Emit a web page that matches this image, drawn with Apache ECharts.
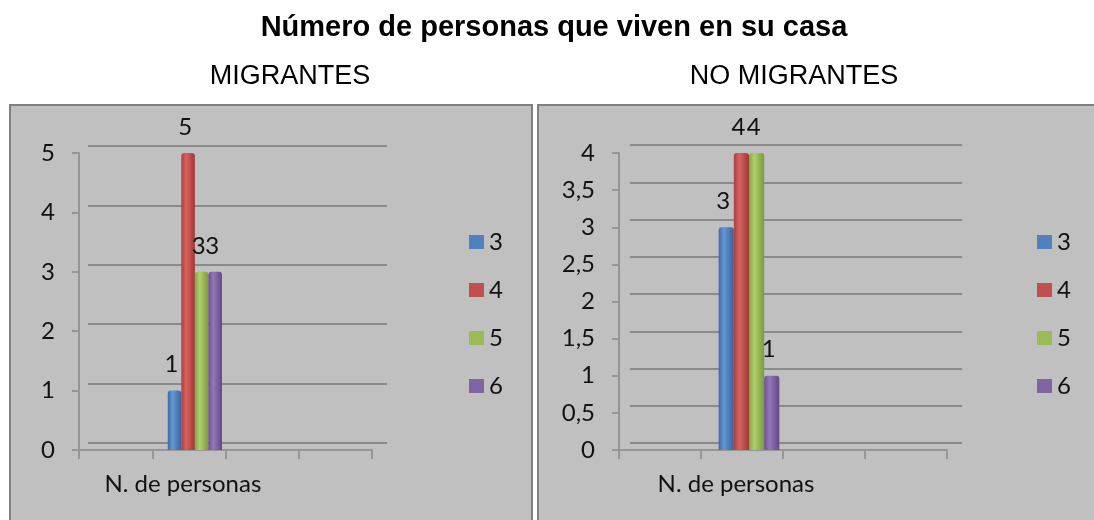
<!DOCTYPE html>
<html>
<head>
<meta charset="utf-8">
<script src="https://cdn.jsdelivr.net/npm/echarts@6/dist/echarts.min.js"></script>
<style>
  html, body { margin: 0; padding: 0; background: #ffffff; }
  #chart { width: 1094px; height: 520px; }
</style>
</head>
<body>
<div id="chart"></div>
<script>
// data
const categories = ["", "N. de personas", "", ""]
const groupNames = ["3", "4", "5", "6"]
const migrantes = [1, 5, 3, 3]
const noMigrantes = [3, 4, 4, 1]
const migrantesTicks = [0, 1, 2, 3, 4, 5]
const noMigrantesTicks = [0, 0.5, 1, 1.5, 2, 2.5, 3, 3.5, 4]

const dataSlot = 1
const textFont = "Lato"

const flatColors = ["#4f81bd", "#c0504d", "#9bbb59", "#8064a2"]
const shades = [
  ["#3d6aa3", "#6596d4", "#3a629a"],
  ["#a63f3c", "#d8625f", "#9e3936"],
  ["#84a446", "#b0cf6c", "#7b993f"],
  ["#6a508e", "#9477b6", "#624985"]
]

function barColor(i) {
  return {
    type: "linear", x: 0, y: 0, x2: 1, y2: 0,
    colorStops: [
      { offset: 0, color: shades[i][0] },
      { offset: 0.35, color: shades[i][1] },
      { offset: 1, color: shades[i][2] }
    ]
  }
}

function slotData(v) {
  return categories.map((c, k) => (k === dataSlot ? v : "-"))
}

function makeSeries(values, axisIndex) {
  return groupNames.map((name, i) => ({
    name: name,
    type: "bar",
    xAxisIndex: axisIndex,
    yAxisIndex: axisIndex,
    data: slotData(values[i]),
    barGap: "0%",
    barCategoryGap: "26%",
    itemStyle: { color: barColor(i), borderRadius: [3, 3, 0, 0] },
    label: {
      show: true,
      position: "top",
      distance: 14,
      offset: [-3, 0],
      fontFamily: textFont,
      fontSize: 24,
      color: "#111111"
    }
  }))
}

const axisGray = "#969696"
const gridGray = "#8a8a8a"

function frontAxes(gridIndex, ticks, fmt) {
  return {
    x: {
      type: "category",
      gridIndex: gridIndex,
      data: categories,
      boundaryGap: true,
      axisLine: { lineStyle: { color: axisGray, width: 2 } },
      axisTick: { show: true, length: 9, lineStyle: { color: axisGray, width: 2 } },
      axisLabel: {
        margin: 22, fontFamily: textFont, fontSize: 24, color: "#111111",
        interval: 0, padding: [0, 12, 0, 0]
      }
    },
    y: {
      type: "value",
      gridIndex: gridIndex,
      min: ticks[0],
      max: ticks[ticks.length - 1],
      interval: ticks[1] - ticks[0],
      axisLine: { show: true, lineStyle: { color: axisGray, width: 2 } },
      axisTick: { show: true, inside: false, length: 7, lineStyle: { color: axisGray, width: 2 } },
      axisLabel: { margin: 24, fontFamily: textFont, fontSize: 24, color: "#111111", formatter: fmt },
      splitLine: { show: false }
    }
  }
}

function backAxes(gridIndex, ticks) {
  return {
    x: { type: "category", gridIndex: gridIndex, data: categories, show: false },
    y: {
      type: "value",
      gridIndex: gridIndex,
      min: ticks[0],
      max: ticks[ticks.length - 1],
      interval: ticks[1] - ticks[0],
      axisLine: { show: false },
      axisTick: { show: false },
      axisLabel: { show: false },
      splitLine: { show: true, lineStyle: { color: gridGray, width: 2 } }
    }
  }
}

function barAxes(gridIndex, ticks) {
  return {
    x: { type: "category", gridIndex: gridIndex, data: categories, show: false },
    y: { type: "value", gridIndex: gridIndex, min: ticks[0], max: ticks[ticks.length - 1], show: false }
  }
}

const commaFmt = v => String(v).replace(".", ",")

const axes = [
  frontAxes(0, migrantesTicks, commaFmt),
  backAxes(1, migrantesTicks),
  barAxes(2, migrantesTicks),
  frontAxes(3, noMigrantesTicks, commaFmt),
  backAxes(4, noMigrantesTicks),
  barAxes(5, noMigrantesTicks)
]

function legendFor(left) {
  return {
    orient: "vertical",
    left: left,
    top: 230,
    padding: 0,
    itemWidth: 15,
    itemHeight: 14,
    itemGap: 24,
    icon: "rect",
    selectedMode: false,
    textStyle: { fontFamily: textFont, fontSize: 24, color: "#111111", lineHeight: 24 },
    data: groupNames.map((n, i) => ({ name: n, itemStyle: { color: flatColors[i] } }))
  }
}

const chart = echarts.init(document.getElementById("chart"), null, { renderer: "canvas" })
chart.setOption({
  animation: false,
  backgroundColor: "#ffffff",
  title: [
    {
      text: "Número de personas que viven en su casa",
      left: 549, top: 8, textAlign: "center",
      textStyle: { fontFamily: "Liberation Sans", fontWeight: "bold", fontSize: 29, color: "#000000" }
    },
    {
      text: "MIGRANTES",
      left: 285, top: 58, textAlign: "center",
      textStyle: { fontFamily: "Liberation Sans", fontWeight: "normal", fontSize: 27, color: "#000000" }
    },
    {
      text: "NO MIGRANTES",
      left: 789, top: 58, textAlign: "center",
      textStyle: { fontFamily: "Liberation Sans", fontWeight: "normal", fontSize: 27, color: "#000000" }
    }
  ],
  graphic: [
    { type: "rect", z: -10, shape: { x: 10, y: 105, width: 522, height: 430 },
      style: { fill: "#c0c0c0", stroke: "#808080", lineWidth: 2 } },
    { type: "rect", z: -10, shape: { x: 538, y: 105, width: 570, height: 430 },
      style: { fill: "#c0c0c0", stroke: "#808080", lineWidth: 2 } }
  ],
  legend: [legendFor(469), legendFor(1037)],
  grid: [
    { left: 79, top: 153, width: 293, height: 297 },
    { left: 88, top: 146, width: 299, height: 297 },
    { left: 85, top: 153, width: 293, height: 297 },
    { left: 619, top: 153, width: 328, height: 297 },
    { left: 630, top: 145, width: 332, height: 298 },
    { left: 626, top: 153, width: 328, height: 297 }
  ],
  xAxis: axes.map(a => a.x),
  yAxis: axes.map(a => a.y),
  series: makeSeries(migrantes, 2).concat(makeSeries(noMigrantes, 5))
})
</script>
</body>
</html>
